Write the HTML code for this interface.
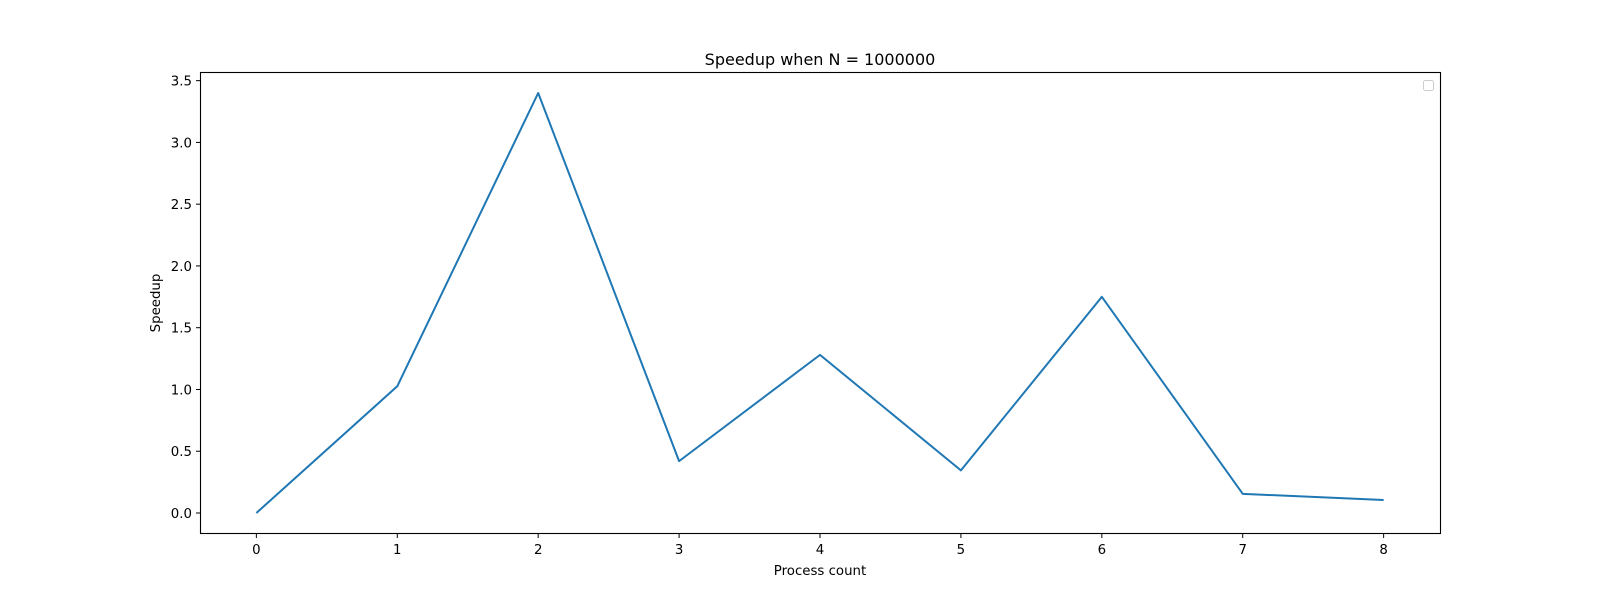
<!DOCTYPE html>
<html><head><meta charset="utf-8"><style>
html,body{margin:0;padding:0;background:#fff;}
svg{display:block;font-family:"DejaVu Sans","Liberation Sans",sans-serif;}
</style></head><body>
<svg id="chart" width="1600" height="600">
<rect width="1600" height="600" fill="#fff"/>
<text x="820" y="65" font-size="16" text-anchor="middle">Speedup when N = 1000000</text>
<g id="xticks"></g>
<g id="yticks"></g>
<polyline id="line" fill="none" stroke="#1f77b4" stroke-width="2" stroke-linejoin="round"/>
<rect x="200.5" y="72.5" width="1240" height="461" fill="none" stroke="#000" stroke-width="1.1"/>
<rect x="1423.5" y="80.5" width="10" height="10" rx="2" fill="#fff" stroke="#ccc"/>
<text x="820" y="575" font-size="13.33" text-anchor="middle">Process count</text>
<text x="0" y="0" font-size="13.33" text-anchor="middle" transform="translate(160,303) rotate(-90)">Speedup</text>
</svg>
<script>
const processCounts=[0,1,2,3,4,5,6,7,8];
const speedups=[0,1.026,3.40,0.42,1.28,0.345,1.75,0.155,0.105];
const xTickLabels=["0","1","2","3","4","5","6","7","8"];
const yTickValues=[0,0.5,1.0,1.5,2.0,2.5,3.0,3.5];
const yTickLabels=["0.0","0.5","1.0","1.5","2.0","2.5","3.0","3.5"];
const NS="http://www.w3.org/2000/svg";
function xs(v){return 200+(v+0.4)/8.8*1240;}
function ys(v){return 534-(v+0.17)/3.74*462;}
const line=document.getElementById('line');
line.setAttribute('points',processCounts.map((p,i)=>xs(p)+','+ys(speedups[i])).join(' '));
const gx=document.getElementById('xticks');
xTickLabels.forEach((l,i)=>{
 const x=xs(processCounts[i]);
 const t=document.createElementNS(NS,'line');
 t.setAttribute('x1',x);t.setAttribute('x2',x);t.setAttribute('y1',534);t.setAttribute('y2',538);t.setAttribute('stroke','#000');
 
 
 gx.appendChild(t);
 const tx=document.createElementNS(NS,'text');
 tx.setAttribute('x',x);tx.setAttribute('y',554);tx.setAttribute('font-size','13.33');tx.setAttribute('text-anchor','middle');
 tx.textContent=l;
 
 
 gx.appendChild(tx);
});
const gy=document.getElementById('yticks');
yTickValues.forEach((v,i)=>{
 const y=ys(v);
 const t=document.createElementNS(NS,'line');
 t.setAttribute('x1',196);t.setAttribute('x2',200.5);t.setAttribute('y1',y);t.setAttribute('y2',y);t.setAttribute('stroke','#000');
 
 
 gy.appendChild(t);
 const tx=document.createElementNS(NS,'text');
 tx.setAttribute('x',192);tx.setAttribute('y',y+5);tx.setAttribute('font-size','13.33');tx.setAttribute('text-anchor','end');
 tx.textContent=yTickLabels[i];
 
 
 gy.appendChild(tx);
});
</script>
</body></html>
